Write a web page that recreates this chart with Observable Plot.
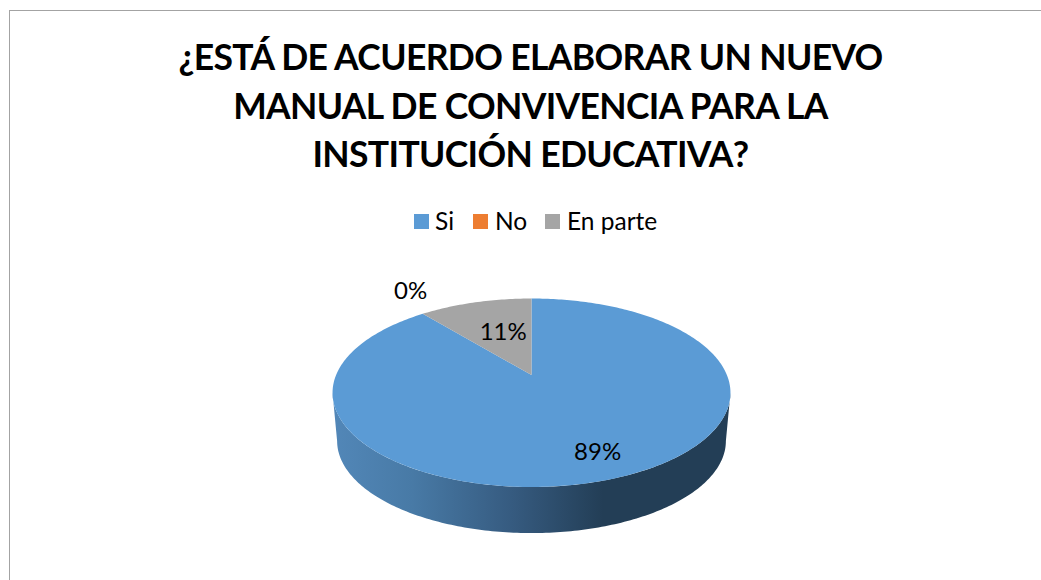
<!DOCTYPE html>
<html lang="es">
<head>
<meta charset="utf-8">
<script src="https://cdn.jsdelivr.net/npm/d3@7"></script>
<script src="https://cdn.jsdelivr.net/npm/@observablehq/plot@0.6"></script>
<style>
  html, body { margin: 0; padding: 0; background: #fff; overflow: hidden; }
  body { width: 1041px; height: 580px; position: relative; font-family: Lato, "Open Sans", sans-serif; color: #000; }
  #frame { position: absolute; left: 9px; top: 10px; width: 1032px; height: 570px; box-sizing: border-box; border-left: 1px solid #a3a3a3; border-top: 1px solid #a3a3a3; }
  #title { position: absolute; left: 0; top: 33px; width: 1061px; text-align: center; font-weight: 700; font-size: 35.5px; letter-spacing: -0.65px; line-height: 48.7px; }
  #legend { position: absolute; top: 205.5px; left: 0; height: 30px; width: 1041px; font-size: 24.5px; }
  #legend span { position: absolute; white-space: nowrap; line-height: 30px; }
  #legend i { position: absolute; top: 8.5px; width: 15px; height: 15px; }
  #chart { position: absolute; left: 0; top: 240px; }
  #chart svg { display: block; }
</style>
</head>
<body>
<div id="frame"></div>
<div id="title"></div>
<div id="legend"></div>
<div id="chart"></div>
<script>
const titleLines = ["¿ESTÁ DE ACUERDO ELABORAR UN NUEVO", "MANUAL DE CONVIVENCIA PARA LA", "INSTITUCIÓN EDUCATIVA?"];
const categories = ["Si", "No", "En parte"];
const percents = [89, 0, 11];
const labels = ["89%", "0%", "11%"];
const colors = ["#5B9BD5", "#ED7D31", "#A5A5A5"];

// Presentation: where legend items sit and how labels sit inside the pie.
const legendSwatchX = [414, 473, 545];
const legendTextX = [435, 495, 567];
const labelPlacement = [{r: 0.777, dx: 6.5, dy: 0.5}, {r: 1.453, dx: 28.5, dy: 0}, {r: 0.552, dx: 5, dy: 0}];
const xUnitPx = 195.4, yUnitPx = 90.9;

// Perspective of the tilted disc.
const k = 0.1883, depth = 0.535, shrink = 0.977;
const project = (u, w, lower = false) => {
  const s = (lower ? shrink : 1) / (1 - k * w);
  return {x: u * s, y: w * s + (lower ? depth : 0)};
};
const atAngle = (a, r = 1) => project(r * Math.sin(a), -r * Math.cos(a));

// Slices run clockwise from twelve o'clock.
const arcs = d3.pie().sort(null).value(d => d).startAngle(0).endAngle(2 * Math.PI)(percents);
const sliceRows = arcs.flatMap((arc, i) => {
  if (arc.endAngle - arc.startAngle === 0) return [];
  const n = Math.max(2, Math.ceil((arc.endAngle - arc.startAngle) * 60));
  const rim = d3.range(n + 1).map(j => atAngle(arc.startAngle + (arc.endAngle - arc.startAngle) * j / n));
  return [project(0, 0), ...rim, project(0, 0)].map(p => ({...p, category: categories[i]}));
});

// Side wall: front half between the two silhouette tangents.
const tangent = Math.acos(-k);
const frontAngles = d3.range(181).map(j => tangent + (2 * Math.PI - 2 * tangent) * j / 180);
const wall = [
  ...frontAngles.map(a => project(Math.sin(a), -Math.cos(a))),
  ...frontAngles.slice().reverse().map(a => project(Math.sin(a), -Math.cos(a), true))
];

const labelRows = labels.map((text, i) => {
  const mid = i === 1 ? arcs[1].startAngle : (arcs[i].startAngle + arcs[i].endAngle) / 2;
  const p = atAngle(mid, labelPlacement[i].r);
  return {x: p.x + labelPlacement[i].dx / xUnitPx, y: p.y + labelPlacement[i].dy / yUnitPx, text};
});

document.getElementById("title").innerHTML = titleLines.map(t => `<div>${t}</div>`).join("");
document.getElementById("legend").innerHTML = categories.map((c, i) =>
  `<i style="left:${legendSwatchX[i]}px;background:${colors[i]}"></i><span style="left:${legendTextX[i]}px">${c}</span>`).join("");

const gradient = () => {
  const svg = d3.create("svg:defs");
  const g = svg.append("linearGradient").attr("id", "wallShade").attr("x1", 0).attr("x2", 1).attr("y1", 0).attr("y2", 0);
  [[0, "#5287B8"], [0.2, "#487AA6"], [0.45, "#365B80"], [0.68, "#233E56"], [1, "#233E56"]]
    .forEach(([o, c]) => g.append("stop").attr("offset", o).attr("stop-color", c));
  return svg.node();
};

const plot = Plot.plot({
  width: 1041,
  height: 340,
  margin: 0,
  style: {background: "transparent"},
  x: {domain: [-1, 1], range: [531 - xUnitPx, 531 + xUnitPx], axis: null},
  y: {domain: [-1, 1], range: [374.5 - 240 - yUnitPx, 374.5 - 240 + yUnitPx], axis: null},
  color: {domain: categories, range: colors},
  marks: [
    gradient,
    Plot.line(wall, {x: "x", y: "y", fill: "url(#wallShade)", stroke: null}),
    Plot.line(sliceRows, {x: "x", y: "y", z: "category", fill: "category", stroke: null}),
    Plot.text(labelRows, {x: "x", y: "y", text: "text", fontSize: 24, fontFamily: "Lato", fill: "#000", lineAnchor: "middle"})
  ]
});
document.getElementById("chart").append(plot);
</script>
</body>
</html>
